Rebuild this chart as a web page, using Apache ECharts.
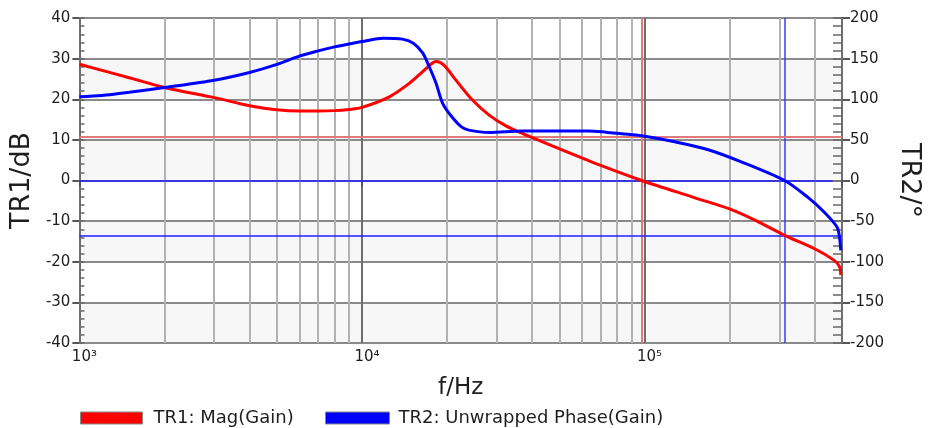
<!DOCTYPE html>
<html>
<head>
<meta charset="utf-8">
<script src="https://cdn.jsdelivr.net/npm/echarts@6/dist/echarts.min.js"></script>
<style>
  html, body { margin: 0; padding: 0; background: #fff; }
  #chart { width: 952px; height: 428px; }
</style>
</head>
<body>
<div id="chart"></div>
<script>
// TR1: gain magnitude (dB) versus frequency (Hz)
const gainFreq = [1000, 1500, 2000, 3000, 4000, 5000, 6000, 7000, 8000, 9000, 10000,
  12500, 14700, 16400, 17800, 18300, 19500, 21500, 24600, 28200, 32200, 36900, 50000,
  70000, 97600, 150000, 200000, 250000, 313000, 400000, 468000, 490000, 495000];
const gainDb = [28.6, 25.3, 22.9, 20.4, 18.4, 17.4, 17.1, 17.1, 17.2, 17.5, 18.0,
  20.6, 23.9, 26.8, 29.0, 29.3, 28.4, 24.7, 19.8, 16.1, 13.5, 11.6, 7.8,
  3.7, 0.0, -4.2, -7.0, -10.0, -13.5, -16.8, -19.6, -21.2, -23.3];

// TR2: unwrapped phase (degrees) versus frequency (Hz)
const phaseFreq = [1000, 1200, 1500, 2000, 3000, 4000, 5000, 6000, 7000, 8000, 9000, 10000, 11900,
  13900, 15200, 16400, 17300, 18300, 19300, 20800, 22500, 23900, 28200, 36900,
  63000, 73000, 83000, 97600, 128000, 167000, 220000, 313000, 377000, 432000, 480000, 490000, 495000];
const phaseDeg = [103, 104.5, 108.5, 114.5, 123.5, 133, 143, 153, 159.5, 164.5, 168, 171, 175,
  174, 169, 157, 140, 119.5, 95, 78.4, 66, 62, 59, 61,
  61, 59.5, 57.5, 55, 47.6, 38.2, 23, 0, -20.2, -38.7, -57.2, -70, -86];

// Stability markers
const gainCrossHz = 97600;     // TR1 crosses 0 dB
const phaseCrossHz = 313000;   // TR2 crosses 0°
const phaseMarginDeg = 53.7;   // phase at gain crossover
const gainMarginDb = -13.5;    // gain at phase crossover

const FONT = '"DejaVu Sans", "Liberation Sans", Arial, sans-serif';
const TXT = '#1e1e1e';

// Minor log grid lines (2..9 per decade) inside the frequency range
const minorGrid = [];
for (let d = 1000; d < 500000; d *= 10) {
  for (let k = 2; k <= 9; k++) {
    const f = k * d;
    if (f < 500000) minorGrid.push({ xAxis: f });
  }
}

const zip = (xs, ys) => xs.map((x, i) => [x, ys[i]]);
const sup = { 3: '\u00B3', 4: '\u2074', 5: '\u2075' };

const chart = echarts.init(document.getElementById('chart'), null, { renderer: 'canvas' });

chart.setOption({
  animation: false,
  backgroundColor: '#ffffff',
  grid: { left: 75, right: 110, top: 18, bottom: 85, containLabel: false },
  legend: [
    {
      left: 75, top: 404, itemWidth: 62, itemHeight: 12, icon: 'rect',
      data: ['TR1: Mag(Gain)'],
      itemStyle: { borderColor: '#888', borderWidth: 1 },
      textStyle: { fontFamily: FONT, fontSize: 18, color: TXT, padding: [0, 0, 0, 6] }
    },
    {
      left: 320, top: 404, itemWidth: 64, itemHeight: 12, icon: 'rect',
      data: ['TR2: Unwrapped Phase(Gain)'],
      itemStyle: { borderColor: '#888', borderWidth: 1 },
      textStyle: { fontFamily: FONT, fontSize: 18, color: TXT, padding: [0, 0, 0, 4] }
    }
  ],
  xAxis: [
    {
      type: 'log', logBase: 10, min: 1000, max: 500000, position: 'bottom',
      name: 'f/Hz', nameLocation: 'middle', nameGap: 34,
      nameTextStyle: { fontFamily: FONT, fontSize: 23, color: TXT },
      axisLine: { show: true, lineStyle: { color: '#777', width: 2 } },
      axisTick: { show: true, length: 6, lineStyle: { color: '#555', width: 2 } },
      axisLabel: {
        fontFamily: FONT, fontSize: 15, color: TXT, margin: 7, padding: [0, 0, 0, 10],
        formatter: v => {
          const e = Math.round(Math.log10(v));
          return (e >= 3 && e <= 5) ? '10' + sup[e] : '';
        }
      },
      splitLine: { show: true, lineStyle: { color: '#6e6e6e', width: 2 } },
      minorTick: { show: false },
      z: 3
    },
    {
      type: 'log', logBase: 10, min: 1000, max: 500000, position: 'top',
      axisLine: { show: true, lineStyle: { color: '#777', width: 2 } },
      axisTick: { show: false }, axisLabel: { show: false }, splitLine: { show: false }
    }
  ],
  yAxis: [
    {
      type: 'value', min: -40, max: 40, interval: 10, position: 'left',
      name: 'TR1/dB', nameLocation: 'middle', nameGap: 42, nameRotate: 90,
      nameTextStyle: { fontFamily: FONT, fontSize: 27, color: TXT },
      axisLine: { show: true, lineStyle: { color: '#777', width: 2 } },
      axisTick: { show: true, length: 7, lineStyle: { color: '#555', width: 2 } },
      axisLabel: { fontFamily: FONT, fontSize: 15, color: TXT, margin: 9 },
      splitLine: { show: true, lineStyle: { color: '#8a8a8a', width: 2 } },
      splitArea: { show: true, areaStyle: { color: ['#f7f7f7', '#ffffff'] } }
    },
    {
      type: 'value', min: -200, max: 200, interval: 50, position: 'right',
      name: 'TR2/°', nameLocation: 'middle', nameGap: 54, nameRotate: -90,
      nameTextStyle: { fontFamily: FONT, fontSize: 27, color: TXT },
      axisLine: { show: true, lineStyle: { color: '#777', width: 2 } },
      axisTick: { show: true, length: 8, lineStyle: { color: '#555', width: 2 } },
      axisLabel: { fontFamily: FONT, fontSize: 15, color: TXT, margin: 8 },
      splitLine: { show: false }
    },
    {
      // inner minor ticks, left side
      type: 'value', min: -40, max: 40, interval: 2, position: 'left',
      axisLine: { show: false },
      axisTick: { show: true, inside: true, length: 5, lineStyle: { color: '#666', width: 1.5 } },
      axisLabel: { show: false }, splitLine: { show: false }
    },
    {
      // inner minor ticks, right side
      type: 'value', min: -200, max: 200, interval: 10, position: 'right',
      axisLine: { show: false },
      axisTick: { show: true, inside: true, length: 9, lineStyle: { color: '#666', width: 1.5 } },
      axisLabel: { show: false }, splitLine: { show: false }
    }
  ],
  series: [
    {
      name: 'minor-grid', type: 'line', data: [], silent: true, z: 1,
      markLine: {
        silent: true, symbol: 'none', label: { show: false }, animation: false,
        lineStyle: { color: '#b2b2b2', width: 2, type: 'solid' },
        data: minorGrid
      }
    },
    {
      name: 'markers', type: 'line', data: [], yAxisIndex: 0, silent: true, z: 4,
      markLine: {
        silent: true, symbol: 'none', label: { show: false }, animation: false,
        data: [
          { xAxis: gainCrossHz, lineStyle: { color: '#e07a7a', width: 2, type: 'solid' } },
          { xAxis: phaseCrossHz, lineStyle: { color: '#3a3aff', width: 1.5, type: 'solid' } },
          { yAxis: gainMarginDb, lineStyle: { color: '#2020ff', width: 1.5, type: 'solid' } },
          [
            { coord: [1000, 0], lineStyle: { color: '#2020ff', width: 1.5, type: 'solid' } },
            { coord: [463000, 0] }
          ]
        ]
      }
    },
    {
      name: 'pm-marker', type: 'line', data: [], yAxisIndex: 1, silent: true, z: 4,
      markLine: {
        silent: true, symbol: 'none', label: { show: false }, animation: false,
        data: [
          { yAxis: phaseMarginDeg, lineStyle: { color: '#e07a7a', width: 2, type: 'solid' } }
        ]
      }
    },
    {
      name: 'TR1: Mag(Gain)', type: 'line', yAxisIndex: 0, z: 5,
      data: zip(gainFreq, gainDb), smooth: 0.3, showSymbol: false,
      color: '#ff0000', lineStyle: { color: '#ff0000', width: 3 }
    },
    {
      name: 'TR2: Unwrapped Phase(Gain)', type: 'line', yAxisIndex: 1, z: 6,
      data: zip(phaseFreq, phaseDeg), smooth: 0.3, showSymbol: false,
      color: '#0000ff', lineStyle: { color: '#0000ff', width: 3 }
    }
  ]
});
</script>
</body>
</html>
